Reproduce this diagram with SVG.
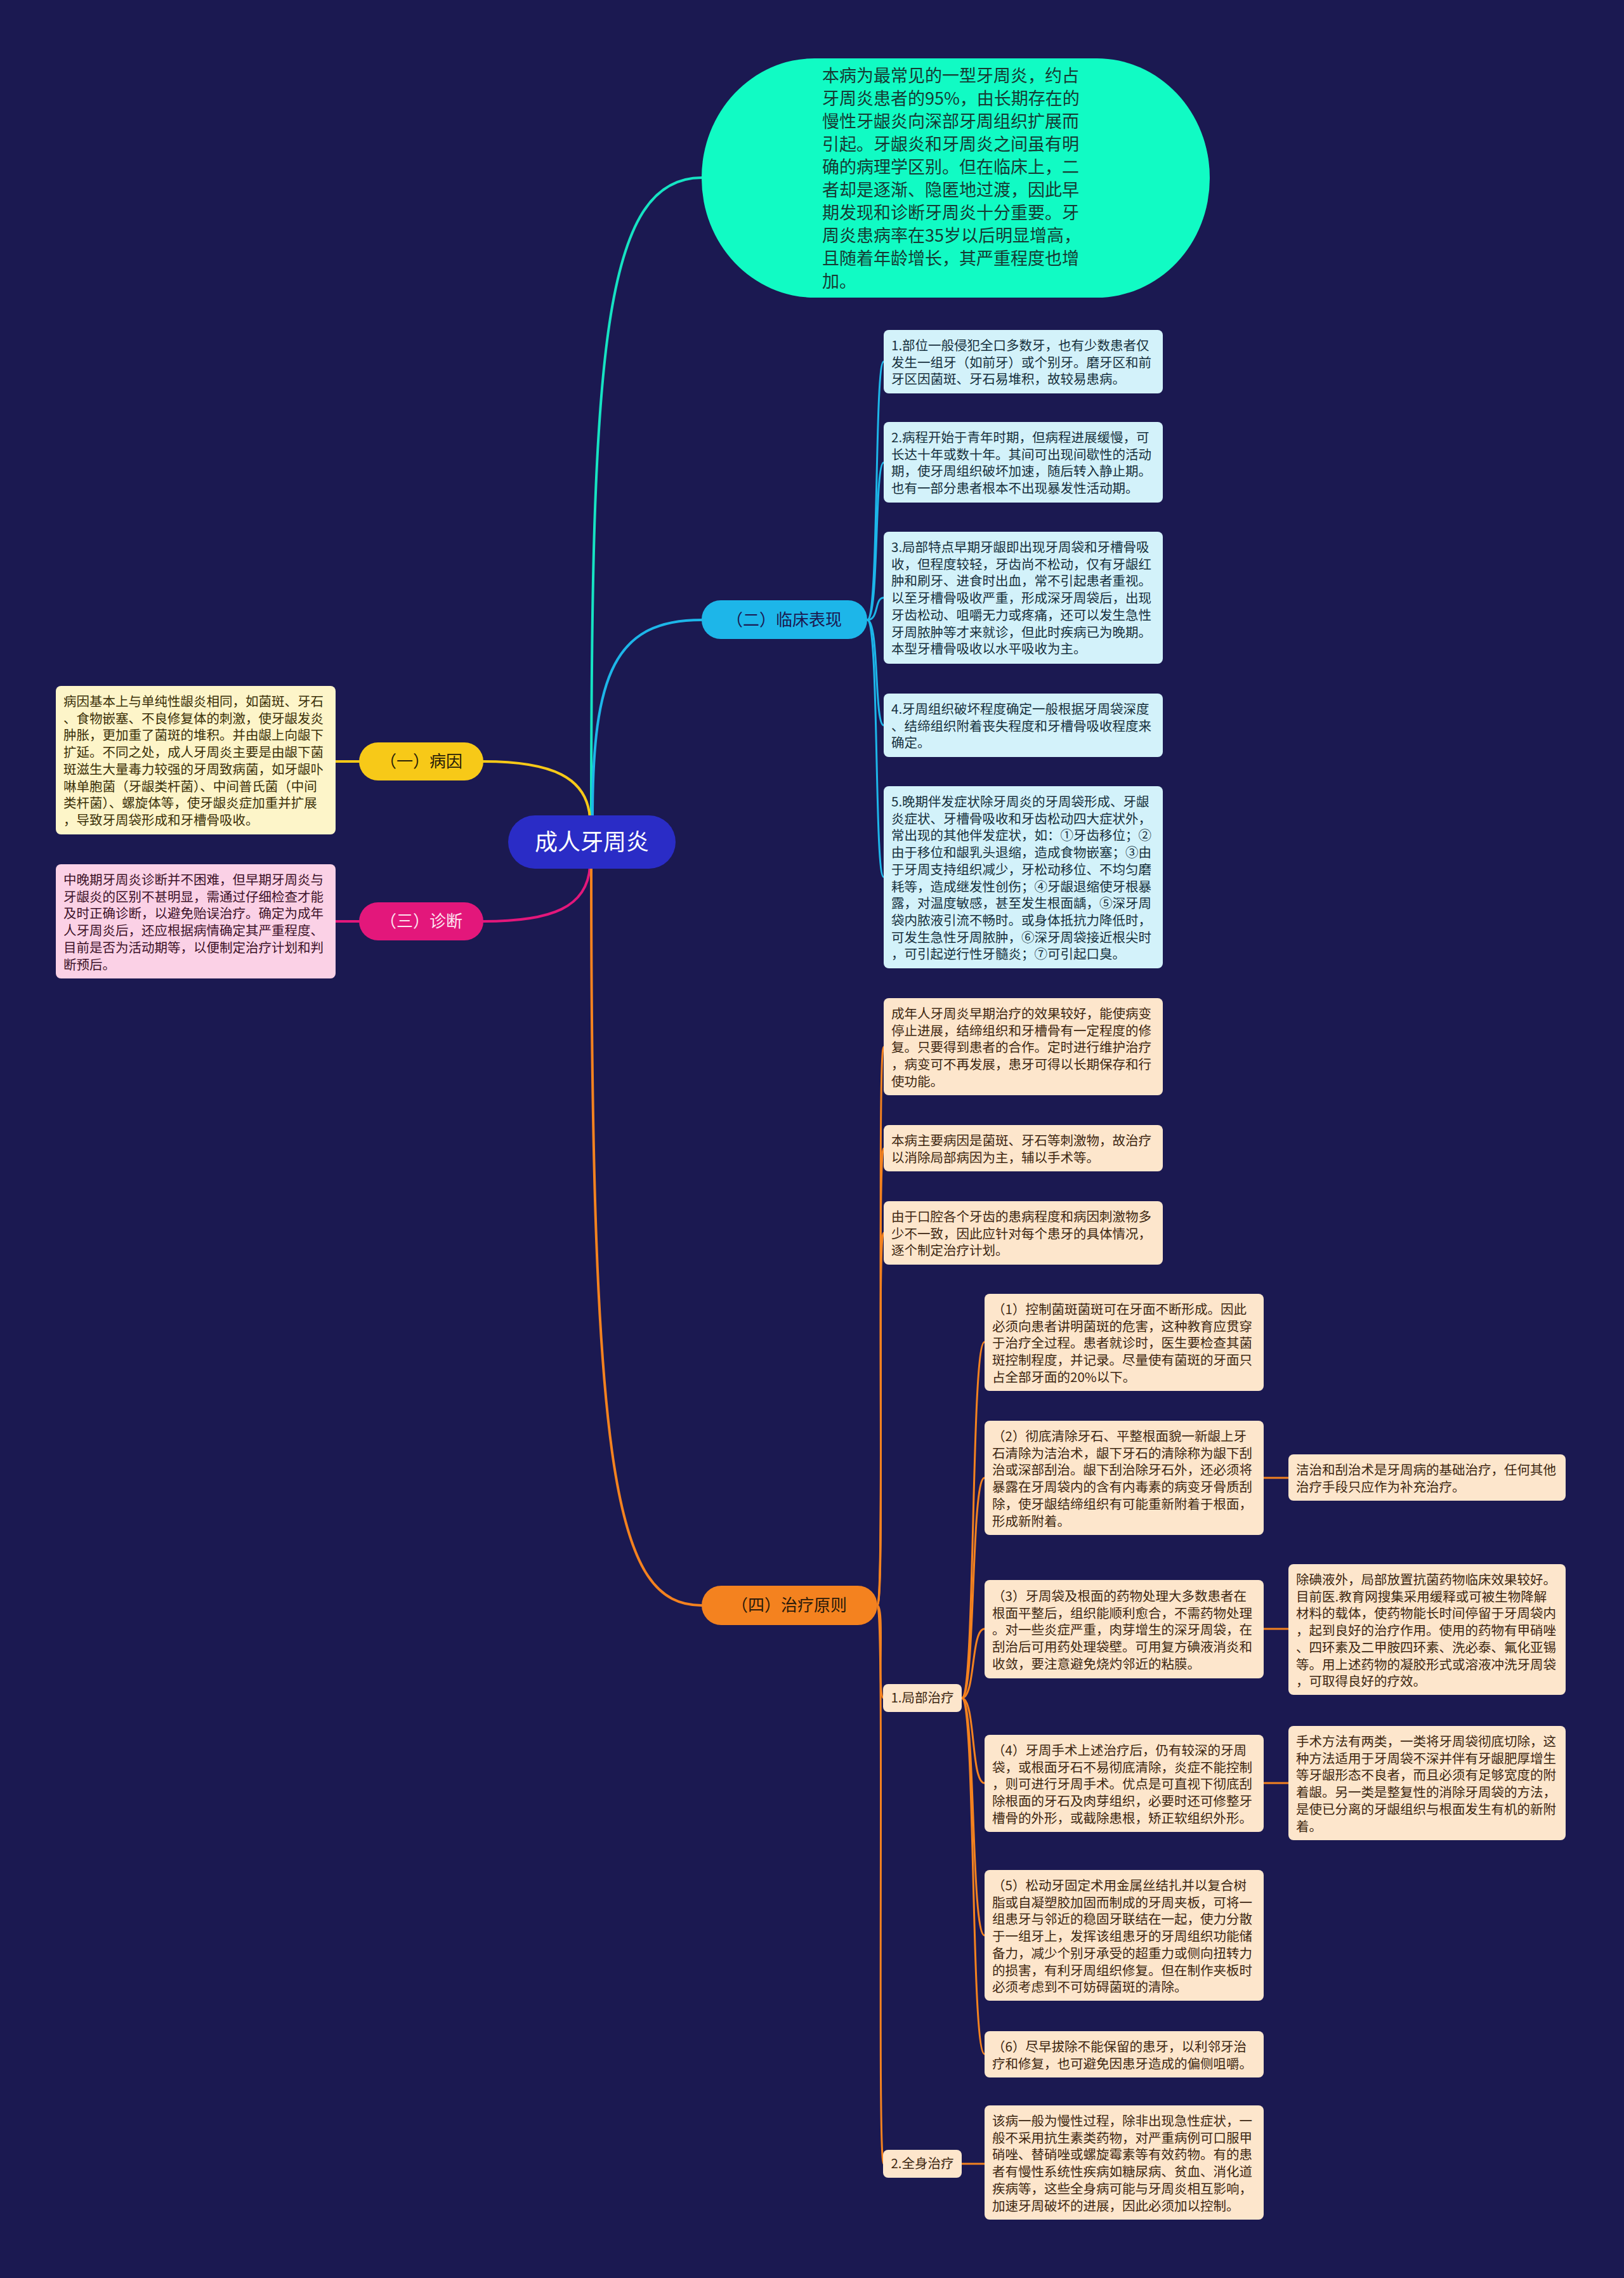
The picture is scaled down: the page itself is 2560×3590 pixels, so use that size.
<svg xmlns="http://www.w3.org/2000/svg" width="2560" height="3590" viewBox="0 0 2560 3590">
<style>
text{font-family:"Noto Sans CJK SC","Noto Sans",sans-serif;}
.t{font-size:20.5px;}
.tc{fill:#16303d;}
.ty{fill:#3b3008;}
.tp{fill:#3d1229;}
.to{fill:#3d2711;}
.lc{fill:#d3f2fa;}
.ly{fill:#fdf5c9;}
.lp{fill:#fbd1e6;}
.lo{fill:#fde6cc;}
.br{font-size:26px;text-anchor:middle;}
.cn{fill:none;stroke-linecap:round;}
</style>
<rect x="0" y="0" width="2560" height="3590" fill="#1b1951"/>

<g id="connectors">
  <path class="cn" d="M932 1290 C932 560 950 280 1106 280" stroke="#16e3c3" stroke-width="4"/>
  <path class="cn" d="M934 1290 C934 1060 970 977 1106 977" stroke="#1db6e9" stroke-width="4"/>
  <path class="cn" d="M930 1290 C926 1225 870 1200 762 1200" stroke="#f7c918" stroke-width="4"/>
  <path class="cn" d="M930 1365 C926 1430 870 1452 762 1452" stroke="#e3177b" stroke-width="4"/>
  <path class="cn" d="M932 1365 C932 2330 970 2530 1106 2530" stroke="#f4821f" stroke-width="4"/>
  <path class="cn" d="M566 1200 L529 1200" stroke="#f7c918" stroke-width="4"/>
  <path class="cn" d="M566 1452 L529 1452" stroke="#e3177b" stroke-width="4"/>

  <g stroke="#1db6e9" stroke-width="3" fill="none">
    <path d="M1367 977 C1386 977 1378 570 1393 570"/>
    <path d="M1367 977 C1386 977 1378 729 1393 729"/>
    <path d="M1367 977 C1386 977 1378 942 1393 942"/>
    <path d="M1367 977 C1386 977 1378 1143 1393 1143"/>
    <path d="M1367 977 C1386 977 1378 1382 1393 1382"/>
  </g>
  <g stroke="#f4821f" stroke-width="3" fill="none">
    <path d="M1383 2530 C1395 2530 1382 1650 1393 1650"/>
    <path d="M1383 2530 C1395 2530 1382 1810 1393 1810"/>
    <path d="M1383 2530 C1395 2530 1382 1943 1393 1943"/>
    <path d="M1383 2530 C1395 2530 1382 2676 1393 2676"/>
    <path d="M1383 2530 C1395 2530 1382 3410 1393 3410"/>
    <path d="M1516 2676 C1538 2676 1530 2115 1552 2115"/>
    <path d="M1516 2676 C1538 2676 1530 2329 1552 2329"/>
    <path d="M1516 2676 C1538 2676 1530 2567 1552 2567"/>
    <path d="M1516 2676 C1538 2676 1530 2810 1552 2810"/>
    <path d="M1516 2676 C1538 2676 1530 3050 1552 3050"/>
    <path d="M1516 2676 C1538 2676 1530 3237 1552 3237"/>
    <path d="M1992 2329 L2031 2329"/>
    <path d="M1992 2567 L2031 2567"/>
    <path d="M1992 2810 L2031 2810"/>
    <path d="M1516 3410 L1552 3410"/>
  </g>
</g>

<g id="root">
  <rect x="801" y="1285" width="264" height="84" rx="42" fill="#2a2cc6"/>
  <text x="933" y="1340" font-size="36" text-anchor="middle" fill="#ffffff">成人牙周炎</text>
</g>

<g id="summary">
  <rect x="1106" y="92" width="801" height="377" rx="178" ry="188" fill="#11fbc4"/>
  <text x="1296" y="129" font-size="27" fill="#163a33">本病为最常见的一型牙周炎，约占<tspan x="1296" dy="36">牙周炎患者的95%，由长期存在的</tspan><tspan x="1296" dy="36">慢性牙龈炎向深部牙周组织扩展而</tspan><tspan x="1296" dy="36">引起。牙龈炎和牙周炎之间虽有明</tspan><tspan x="1296" dy="36">确的病理学区别。但在临床上，二</tspan><tspan x="1296" dy="36">者却是逐渐、隐匿地过渡，因此早</tspan><tspan x="1296" dy="36">期发现和诊断牙周炎十分重要。牙</tspan><tspan x="1296" dy="36">周炎患病率在35岁以后明显增高，</tspan><tspan x="1296" dy="36">且随着年龄增长，其严重程度也增</tspan><tspan x="1296" dy="36">加。</tspan></text>
</g>

<g id="clinical">
  <rect x="1106" y="946" width="261" height="61" rx="30" fill="#1db6e9"/>
  <text class="br" x="1236" y="986" fill="#1b1951">（二）临床表现</text>
</g>
<g id="c1">
  <rect class="lc" x="1393" y="520" width="440" height="100" rx="8"/>
  <text class="t tc" x="1405" y="552">1.部位一般侵犯全口多数牙，也有少数患者仅<tspan x="1405" dy="26.7">发生一组牙（如前牙）或个别牙。磨牙区和前</tspan><tspan x="1405" dy="26.7">牙区因菌斑、牙石易堆积，故较易患病。</tspan></text>
</g>
<g id="c2">
  <rect class="lc" x="1393" y="665" width="440" height="127" rx="8"/>
  <text class="t tc" x="1405" y="697">2.病程开始于青年时期，但病程进展缓慢，可<tspan x="1405" dy="26.7">长达十年或数十年。其间可出现间歇性的活动</tspan><tspan x="1405" dy="26.7">期，使牙周组织破坏加速，随后转入静止期。</tspan><tspan x="1405" dy="26.7">也有一部分患者根本不出现暴发性活动期。</tspan></text>
</g>
<g id="c3">
  <rect class="lc" x="1393" y="838" width="440" height="208" rx="8"/>
  <text class="t tc" x="1405" y="870">3.局部特点早期牙龈即出现牙周袋和牙槽骨吸<tspan x="1405" dy="26.7">收，但程度较轻，牙齿尚不松动，仅有牙龈红</tspan><tspan x="1405" dy="26.7">肿和刷牙、进食时出血，常不引起患者重视。</tspan><tspan x="1405" dy="26.7">以至牙槽骨吸收严重，形成深牙周袋后，出现</tspan><tspan x="1405" dy="26.7">牙齿松动、咀嚼无力或疼痛，还可以发生急性</tspan><tspan x="1405" dy="26.7">牙周脓肿等才来就诊，但此时疾病已为晚期。</tspan><tspan x="1405" dy="26.7">本型牙槽骨吸收以水平吸收为主。</tspan></text>
</g>
<g id="c4">
  <rect class="lc" x="1393" y="1093" width="440" height="100" rx="8"/>
  <text class="t tc" x="1405" y="1125">4.牙周组织破坏程度确定一般根据牙周袋深度<tspan x="1405" dy="26.7">、结缔组织附着丧失程度和牙槽骨吸收程度来</tspan><tspan x="1405" dy="26.7">确定。</tspan></text>
</g>
<g id="c5">
  <rect class="lc" x="1393" y="1239" width="440" height="287" rx="8"/>
  <text class="t tc" x="1405" y="1271">5.晚期伴发症状除牙周炎的牙周袋形成、牙龈<tspan x="1405" dy="26.7">炎症状、牙槽骨吸收和牙齿松动四大症状外，</tspan><tspan x="1405" dy="26.7">常出现的其他伴发症状，如：①牙齿移位；②</tspan><tspan x="1405" dy="26.7">由于移位和龈乳头退缩，造成食物嵌塞；③由</tspan><tspan x="1405" dy="26.7">于牙周支持组织减少，牙松动移位、不均匀磨</tspan><tspan x="1405" dy="26.7">耗等，造成继发性创伤；④牙龈退缩使牙根暴</tspan><tspan x="1405" dy="26.7">露，对温度敏感，甚至发生根面龋，⑤深牙周</tspan><tspan x="1405" dy="26.7">袋内脓液引流不畅时。或身体抵抗力降低时，</tspan><tspan x="1405" dy="26.7">可发生急性牙周脓肿，⑥深牙周袋接近根尖时</tspan><tspan x="1405" dy="26.7">，可引起逆行性牙髓炎；⑦可引起口臭。</tspan></text>
</g>

<g id="cause">
  <rect x="566" y="1170" width="196" height="60" rx="30" fill="#f7c918"/>
  <text class="br" x="664" y="1209" fill="#2a2208">（一）病因</text>
</g>
<g id="cause-leaf">
  <rect class="ly" x="88" y="1081" width="441" height="234" rx="8"/>
  <text class="t ty" x="100" y="1113">病因基本上与单纯性龈炎相同，如菌斑、牙石<tspan x="100" dy="26.7">、食物嵌塞、不良修复体的刺激，使牙龈发炎</tspan><tspan x="100" dy="26.7">肿胀，更加重了菌斑的堆积。并由龈上向龈下</tspan><tspan x="100" dy="26.7">扩延。不同之处，成人牙周炎主要是由龈下菌</tspan><tspan x="100" dy="26.7">斑滋生大量毒力较强的牙周致病菌，如牙龈卟</tspan><tspan x="100" dy="26.7">啉单胞菌（牙龈类杆菌）、中间普氏菌（中间</tspan><tspan x="100" dy="26.7">类杆菌）、螺旋体等，使牙龈炎症加重并扩展</tspan><tspan x="100" dy="26.7">，导致牙周袋形成和牙槽骨吸收。</tspan></text>
</g>

<g id="diagnosis">
  <rect x="566" y="1422" width="196" height="60" rx="30" fill="#e3177b"/>
  <text class="br" x="664" y="1461" fill="#fde3ef">（三）诊断</text>
</g>
<g id="diagnosis-leaf">
  <rect class="lp" x="88" y="1362" width="441" height="180" rx="8"/>
  <text class="t tp" x="100" y="1394">中晚期牙周炎诊断并不困难，但早期牙周炎与<tspan x="100" dy="26.7">牙龈炎的区别不甚明显，需通过仔细检查才能</tspan><tspan x="100" dy="26.7">及时正确诊断，以避免贻误治疗。确定为成年</tspan><tspan x="100" dy="26.7">人牙周炎后，还应根据病情确定其严重程度、</tspan><tspan x="100" dy="26.7">目前是否为活动期等，以便制定治疗计划和判</tspan><tspan x="100" dy="26.7">断预后。</tspan></text>
</g>

<g id="treatment">
  <rect x="1106" y="2499" width="277" height="62" rx="31" fill="#f4821f"/>
  <text class="br" x="1244" y="2539" fill="#2a1a0a">（四）治疗原则</text>
</g>
<g id="t1">
  <rect class="lo" x="1393" y="1573" width="440" height="153" rx="8"/>
  <text class="t to" x="1405" y="1605">成年人牙周炎早期治疗的效果较好，能使病变<tspan x="1405" dy="26.7">停止进展，结缔组织和牙槽骨有一定程度的修</tspan><tspan x="1405" dy="26.7">复。只要得到患者的合作。定时进行维护治疗</tspan><tspan x="1405" dy="26.7">，病变可不再发展，患牙可得以长期保存和行</tspan><tspan x="1405" dy="26.7">使功能。</tspan></text>
</g>
<g id="t2">
  <rect class="lo" x="1393" y="1773" width="440" height="73" rx="8"/>
  <text class="t to" x="1405" y="1805">本病主要病因是菌斑、牙石等刺激物，故治疗<tspan x="1405" dy="26.7">以消除局部病因为主，辅以手术等。</tspan></text>
</g>
<g id="t3">
  <rect class="lo" x="1393" y="1893" width="440" height="100" rx="8"/>
  <text class="t to" x="1405" y="1925">由于口腔各个牙齿的患病程度和病因刺激物多<tspan x="1405" dy="26.7">少不一致，因此应针对每个患牙的具体情况，</tspan><tspan x="1405" dy="26.7">逐个制定治疗计划。</tspan></text>
</g>
<g id="local">
  <rect class="lo" x="1392" y="2654" width="124" height="44" rx="8"/>
  <text class="t to" x="1454" y="2683" text-anchor="middle">1.局部治疗</text>
</g>
<g id="systemic">
  <rect class="lo" x="1392" y="3388" width="124" height="44" rx="8"/>
  <text class="t to" x="1454" y="3417" text-anchor="middle">2.全身治疗</text>
</g>
<g id="l1">
  <rect class="lo" x="1552" y="2039" width="440" height="153" rx="8"/>
  <text class="t to" x="1564" y="2071">（1）控制菌斑菌斑可在牙面不断形成。因此<tspan x="1564" dy="26.7">必须向患者讲明菌斑的危害，这种教育应贯穿</tspan><tspan x="1564" dy="26.7">于治疗全过程。患者就诊时，医生要检查其菌</tspan><tspan x="1564" dy="26.7">斑控制程度，并记录。尽量使有菌斑的牙面只</tspan><tspan x="1564" dy="26.7">占全部牙面的20%以下。</tspan></text>
</g>
<g id="l2">
  <rect class="lo" x="1552" y="2239" width="440" height="180" rx="8"/>
  <text class="t to" x="1564" y="2271">（2）彻底清除牙石、平整根面貌一新龈上牙<tspan x="1564" dy="26.7">石清除为洁治术，龈下牙石的清除称为龈下刮</tspan><tspan x="1564" dy="26.7">治或深部刮治。龈下刮治除牙石外，还必须将</tspan><tspan x="1564" dy="26.7">暴露在牙周袋内的含有内毒素的病变牙骨质刮</tspan><tspan x="1564" dy="26.7">除，使牙龈结缔组织有可能重新附着于根面，</tspan><tspan x="1564" dy="26.7">形成新附着。</tspan></text>
</g>
<g id="l2r">
  <rect class="lo" x="2031" y="2292" width="437" height="73" rx="8"/>
  <text class="t to" x="2043" y="2324">洁治和刮治术是牙周病的基础治疗，任何其他<tspan x="2043" dy="26.7">治疗手段只应作为补充治疗。</tspan></text>
</g>
<g id="l3">
  <rect class="lo" x="1552" y="2490" width="440" height="155" rx="8"/>
  <text class="t to" x="1564" y="2523">（3）牙周袋及根面的药物处理大多数患者在<tspan x="1564" dy="26.7">根面平整后，组织能顺利愈合，不需药物处理</tspan><tspan x="1564" dy="26.7">。对一些炎症严重，肉芽增生的深牙周袋，在</tspan><tspan x="1564" dy="26.7">刮治后可用药处理袋壁。可用复方碘液消炎和</tspan><tspan x="1564" dy="26.7">收敛，要注意避免烧灼邻近的粘膜。</tspan></text>
</g>
<g id="l3r">
  <rect class="lo" x="2031" y="2465" width="437" height="206" rx="8"/>
  <text class="t to" x="2043" y="2497">除碘液外，局部放置抗菌药物临床效果较好。<tspan x="2043" dy="26.7">目前医.教育网搜集采用缓释或可被生物降解</tspan><tspan x="2043" dy="26.7">材料的载体，使药物能长时间停留于牙周袋内</tspan><tspan x="2043" dy="26.7">，起到良好的治疗作用。使用的药物有甲硝唑</tspan><tspan x="2043" dy="26.7">、四环素及二甲胺四环素、洗必泰、氟化亚锡</tspan><tspan x="2043" dy="26.7">等。用上述药物的凝胶形式或溶液冲洗牙周袋</tspan><tspan x="2043" dy="26.7">，可取得良好的疗效。</tspan></text>
</g>
<g id="l4">
  <rect class="lo" x="1552" y="2734" width="440" height="153" rx="8"/>
  <text class="t to" x="1564" y="2766">（4）牙周手术上述治疗后，仍有较深的牙周<tspan x="1564" dy="26.7">袋，或根面牙石不易彻底清除，炎症不能控制</tspan><tspan x="1564" dy="26.7">，则可进行牙周手术。优点是可直视下彻底刮</tspan><tspan x="1564" dy="26.7">除根面的牙石及肉芽组织，必要时还可修整牙</tspan><tspan x="1564" dy="26.7">槽骨的外形，或截除患根，矫正软组织外形。</tspan></text>
</g>
<g id="l4r">
  <rect class="lo" x="2031" y="2720" width="437" height="180" rx="8"/>
  <text class="t to" x="2043" y="2752">手术方法有两类，一类将牙周袋彻底切除，这<tspan x="2043" dy="26.7">种方法适用于牙周袋不深并伴有牙龈肥厚增生</tspan><tspan x="2043" dy="26.7">等牙龈形态不良者，而且必须有足够宽度的附</tspan><tspan x="2043" dy="26.7">着龈。另一类是整复性的消除牙周袋的方法，</tspan><tspan x="2043" dy="26.7">是使已分离的牙龈组织与根面发生有机的新附</tspan><tspan x="2043" dy="26.7">着。</tspan></text>
</g>
<g id="l5">
  <rect class="lo" x="1552" y="2947" width="440" height="206" rx="8"/>
  <text class="t to" x="1564" y="2979">（5）松动牙固定术用金属丝结扎并以复合树<tspan x="1564" dy="26.7">脂或自凝塑胶加固而制成的牙周夹板，可将一</tspan><tspan x="1564" dy="26.7">组患牙与邻近的稳固牙联结在一起，使力分散</tspan><tspan x="1564" dy="26.7">于一组牙上，发挥该组患牙的牙周组织功能储</tspan><tspan x="1564" dy="26.7">备力，减少个别牙承受的超重力或侧向扭转力</tspan><tspan x="1564" dy="26.7">的损害，有利牙周组织修复。但在制作夹板时</tspan><tspan x="1564" dy="26.7">必须考虑到不可妨碍菌斑的清除。</tspan></text>
</g>
<g id="l6">
  <rect class="lo" x="1552" y="3201" width="440" height="73" rx="8"/>
  <text class="t to" x="1564" y="3233">（6）尽早拔除不能保留的患牙，以利邻牙治<tspan x="1564" dy="26.7">疗和修复，也可避免因患牙造成的偏侧咀嚼。</tspan></text>
</g>
<g id="s1">
  <rect class="lo" x="1552" y="3318" width="440" height="180" rx="8"/>
  <text class="t to" x="1564" y="3350">该病一般为慢性过程，除非出现急性症状，一<tspan x="1564" dy="26.7">般不采用抗生素类药物，对严重病例可口服甲</tspan><tspan x="1564" dy="26.7">硝唑、替硝唑或螺旋霉素等有效药物。有的患</tspan><tspan x="1564" dy="26.7">者有慢性系统性疾病如糖尿病、贫血、消化道</tspan><tspan x="1564" dy="26.7">疾病等，这些全身病可能与牙周炎相互影响，</tspan><tspan x="1564" dy="26.7">加速牙周破坏的进展，因此必须加以控制。</tspan></text>
</g>
</svg>
